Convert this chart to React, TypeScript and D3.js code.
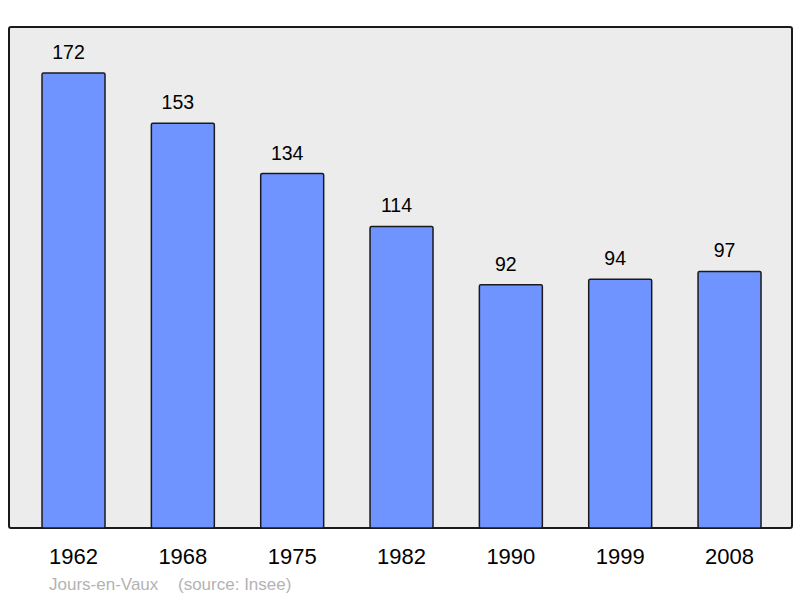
import React from 'react';
import { scaleBand, scaleLinear } from 'd3';

const years = ['1962', '1968', '1975', '1982', '1990', '1999', '2008'];
const population = [172, 153, 134, 114, 92, 94, 97];
const townName = 'Jours-en-Vaux';
const sourceNote = '(source: Insee)';

const W = 800;
const H = 598;
const frame = { left: 9, right: 792, top: 27, bottom: 528 };

const App: React.FC = () => {
  const x = scaleBand<string>()
    .domain(years)
    .range([frame.left, frame.right])
    .paddingInner(0.424)
    .paddingOuter(0.2927)
    .align(0.516);

  const y = scaleLinear().domain([0, 189.4]).range([frame.bottom, frame.top]);

  const font = '"Liberation Sans", Arial, sans-serif';

  return (
    <svg
      width={W}
      height={H}
      style={{ position: 'absolute', left: 0, top: 0, display: 'block' }}
      fontFamily={font}
    >
      <rect x={0} y={0} width={W} height={H} fill="#ffffff" />
      <rect
        x={frame.left}
        y={frame.top}
        width={frame.right - frame.left}
        height={frame.bottom - frame.top}
        rx={2}
        fill="#ececec"
        stroke="#1a1a1a"
        strokeWidth={2}
      />
      {years.map((yr, i) => {
        const bx = x(yr)!;
        const by = y(population[i]);
        const cx = bx + x.bandwidth() / 2;
        return (
          <g key={yr}>
            <rect
              x={bx}
              y={by}
              width={x.bandwidth()}
              height={frame.bottom - by}
              rx={1.5}
              fill="#7094ff"
              stroke="#1a1a1a"
              strokeWidth={1.5}
            />
            <text x={cx - 5} y={by - 14} textAnchor="middle" fontSize={19.5} fill="#000">
              {population[i]}
            </text>
            <text x={cx} y={564} textAnchor="middle" fontSize={22} fill="#000">
              {yr}
            </text>
          </g>
        );
      })}
      <text x={49} y={590} fontSize={17} fill="#b3b3b3">
        {townName}
      </text>
      <text x={178} y={590} fontSize={17} fill="#b3b3b3">
        {sourceNote}
      </text>
    </svg>
  );
};

export default App;
